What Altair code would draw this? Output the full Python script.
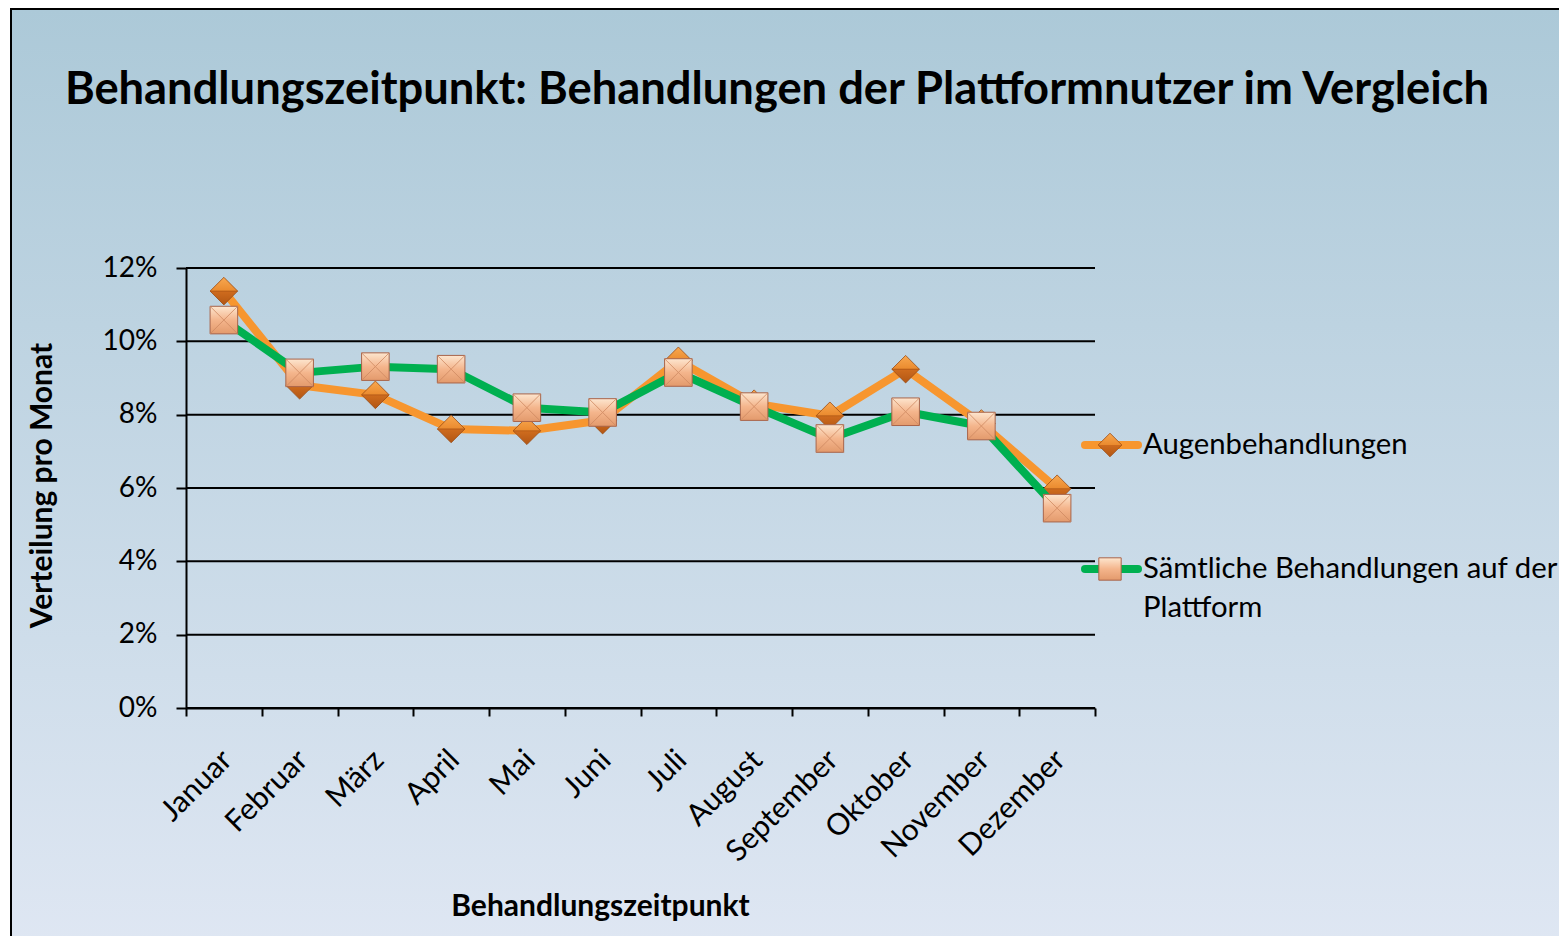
import altair as alt
import pandas as pd

months = ["Januar", "Februar", "März", "April", "Mai", "Juni", "Juli",
          "August", "September", "Oktober", "November", "Dezember"]
augen = [11.37, 8.80, 8.54, 7.61, 7.56, 7.85, 9.47, 8.30, 7.97, 9.24, 7.76, 5.98]
alle = [10.58, 9.14, 9.31, 9.24, 8.19, 8.06, 9.15, 8.22, 7.35, 8.08, 7.69, 5.45]
series_names = ["Augenbehandlungen", "Sämtliche Behandlungen auf der Plattform"]
title_text = "Behandlungszeitpunkt: Behandlungen der Plattformnutzer im Vergleich"
y_ticks = [0, 0.02, 0.04, 0.06, 0.08, 0.10, 0.12]

df_a = pd.DataFrame({"Monat": months, "Wert": [v / 100 for v in augen]})
df_b = pd.DataFrame({"Monat": months, "Wert": [v / 100 for v in alle]})
df_grid = pd.DataFrame({"Wert": y_ticks})

FONT = "Lato"
W, H = 909, 440
ORANGE = "#f7962f"
GREEN = "#00b050"

x_enc = alt.X("Monat:N", sort=months,
              scale=alt.Scale(paddingInner=0, paddingOuter=0),
              axis=alt.Axis(title="Behandlungszeitpunkt", labelAngle=-45,
                            labelAlign="right", labelBaseline="middle",
                            labelPadding=39, labelOffset=3,
                            labelFontSize=30, labelFont=FONT, labelColor="black",
                            tickBand="extent", tickSize=8, tickWidth=2,
                            tickColor="black", domainColor="black", domainWidth=2,
                            grid=False, titleFont=FONT, titleFontSize=30,
                            titleFontWeight="bold", titleColor="black",
                            titleX=414, titleY=198, titleAlign="center",
                            titleBaseline="middle", zindex=1))
y_scale = alt.Scale(domain=[0, 0.12], nice=False)
y_enc = alt.Y("Wert:Q", scale=y_scale,
              axis=alt.Axis(title="Verteilung pro Monat", format=".0%",
                            values=y_ticks, tickSize=10, tickWidth=2,
                            tickColor="black", domainColor="black", domainWidth=2,
                            grid=False,
                            labelFontSize=28, labelFont=FONT, labelColor="black",
                            labelPadding=19, titleFont=FONT, titleFontSize=30,
                            titleFontWeight="bold", titleColor="black",
                            titleX=-144, titleY=217, titleAlign="center",
                            titleBaseline="middle", titleAngle=270, zindex=1))

bg_grad = alt.Gradient(gradient="linear", x1=0, x2=0, y1=0, y2=1,
                       stops=[alt.GradientStop(color="#acc9d8", offset=0),
                              alt.GradientStop(color="#e1e8f4", offset=1)])
dia_grad = alt.Gradient(gradient="linear", x1=0, x2=0, y1=0, y2=1,
                        stops=[alt.GradientStop(color="#f8a850", offset=0),
                               alt.GradientStop(color="#ea8a2e", offset=0.5),
                               alt.GradientStop(color="#cf6c1e", offset=0.5),
                               alt.GradientStop(color="#b25614", offset=1)])
sq_grad = alt.Gradient(gradient="linear", x1=0, x2=0, y1=0, y2=1,
                       stops=[alt.GradientStop(color="#fde6cf", offset=0),
                              alt.GradientStop(color="#f4b58c", offset=0.5),
                              alt.GradientStop(color="#e39a6c", offset=1)])

one = pd.DataFrame({"k": [0]})

background = alt.Chart(one).mark_rect(fill=bg_grad, stroke="black", strokeWidth=2).encode(
    x=alt.value(-175), x2=alt.value(1420), y=alt.value(-259), y2=alt.value(720))

grid = alt.Chart(df_grid).mark_rule(color="black", strokeWidth=2).encode(
    y=y_enc, x=alt.value(0), x2=alt.value(W))

title = alt.Chart(pd.DataFrame({"t": [title_text]})).mark_text(
    font=FONT, fontSize=45.3, fontWeight="bold", color="black",
    align="center", baseline="middle").encode(
    text="t:N", x=alt.value(591), y=alt.value(-178))

SIZE = 760
line_a = alt.Chart(df_a).mark_line(color=ORANGE, strokeWidth=8, strokeJoin="round").encode(x=x_enc, y=y_enc)
pts_a = alt.Chart(df_a).mark_point(shape="diamond", size=SIZE, filled=True, fill=dia_grad,
                                   stroke="#9a4a12", strokeWidth=0.8, opacity=1).encode(x=x_enc, y=y_enc)
pts_a2 = alt.Chart(df_a).mark_point(shape="M-1,0L1,0", size=SIZE, filled=False,
                                    stroke="#a85214", strokeWidth=1, opacity=0.7).encode(x=x_enc, y=y_enc)
line_b = alt.Chart(df_b).mark_line(color=GREEN, strokeWidth=8, strokeJoin="round").encode(x=x_enc, y=y_enc)
pts_b = alt.Chart(df_b).mark_point(shape="square", size=SIZE, filled=True, fill=sq_grad,
                                   stroke="#a8644a", strokeWidth=1, opacity=1).encode(x=x_enc, y=y_enc)
pts_b2 = alt.Chart(df_b).mark_point(shape="M-1,-1L1,1M1,-1L-1,1", size=SIZE, filled=False,
                                    stroke="#d08a62", strokeWidth=1, opacity=0.8).encode(x=x_enc, y=y_enc)

# manual legend
leg_rule_a = alt.Chart(one).mark_rule(color=ORANGE, strokeWidth=8, strokeCap="round").encode(
    x=alt.value(899), x2=alt.value(952), y=alt.value(177))
leg_pt_a = alt.Chart(one).mark_point(shape="diamond", size=560, filled=True, fill=dia_grad,
                                     stroke="#9a4a12", strokeWidth=0.8, opacity=1).encode(
    x=alt.value(924), y=alt.value(177))
leg_rule_b = alt.Chart(one).mark_rule(color=GREEN, strokeWidth=8, strokeCap="round").encode(
    x=alt.value(899), x2=alt.value(952), y=alt.value(301))
leg_pt_b = alt.Chart(one).mark_point(shape="square", size=500, filled=True, fill=sq_grad,
                                     stroke="#a8644a", strokeWidth=1, opacity=1).encode(
    x=alt.value(924), y=alt.value(301))
leg_txt_a = alt.Chart(pd.DataFrame({"t": [series_names[0]]})).mark_text(
    font=FONT, fontSize=29.3, color="black", align="left", baseline="middle").encode(
    text="t:N", x=alt.value(957), y=alt.value(177))
leg_txt_b = alt.Chart(pd.DataFrame({"t": [["Sämtliche Behandlungen auf der", "Plattform"]]})).mark_text(
    font=FONT, fontSize=29.3, color="black", align="left", baseline="middle", lineHeight=39).encode(
    text="t", x=alt.value(957), y=alt.value(301))

chart = alt.layer(background, grid, title, line_a, pts_a, pts_a2, line_b, pts_b, pts_b2,
                  leg_rule_a, leg_pt_a, leg_rule_b, leg_pt_b, leg_txt_a, leg_txt_b).properties(
    width=W, height=H,
    autosize=alt.AutoSizeParams(type="none"),
    padding={"left": 178, "top": 260, "right": 464, "bottom": 228},
).configure_view(strokeWidth=0).configure(background="white")

chart.save("out.html", embed_options={"renderer": "svg", "actions": False})
